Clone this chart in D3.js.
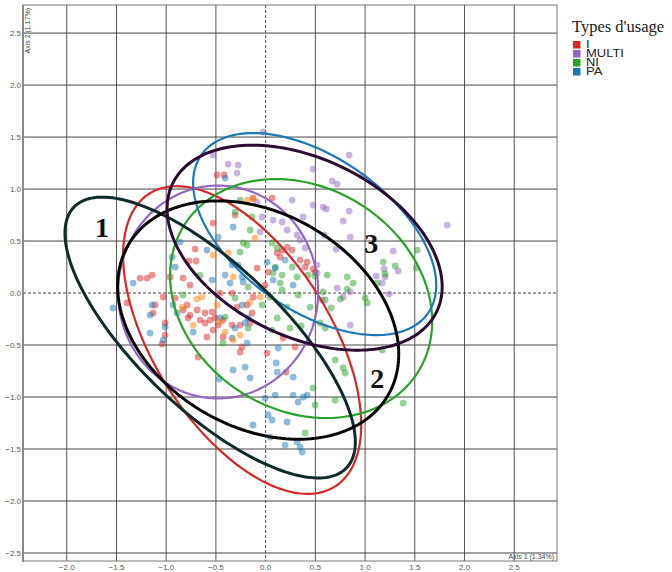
<!DOCTYPE html>
<html><head><meta charset="utf-8">
<script src="https://cdn.jsdelivr.net/npm/d3@7"></script>
<style>body{margin:0;background:#fff}svg{display:block}</style>
</head><body><svg id="c" width="672" height="572"></svg>
<script>
// ---------- data ----------
const categories = ["I", "MULTI", "NI", "PA"];
const legendTitle = "Types d'usage";
const xTicks = [-2.0, -1.5, -1.0, -0.5, 0.0, 0.5, 1.0, 1.5, 2.0, 2.5];
const yTicks = [-2.5, -2.0, -1.5, -1.0, -0.5, 0.0, 0.5, 1.0, 1.5, 2.0, 2.5];
const xTitle = "Axis 1 (1.34%)";
const yTitle = "Axis 2 (1.17%)";

const pointsI = [[-0.488,1.135],[-0.418,1.135],[-0.126,0.913],[0.065,0.913],[-0.307,0.75],[-0.528,0.673],[-0.709,0.423],[-0.77,0.308],[-0.699,0.308],[-0.83,0.144],[-1.263,0.144],[-1.192,0.144],[-1.142,0.173],[-0.961,0.154],[-0.76,0.077],[-1.031,-0.038],[-1.112,-0.115],[-1.132,-0.192],[-0.91,-0.048],[-0.79,-0.115],[-0.83,-0.163],[-0.76,-0.212],[-0.689,-0.163],[-0.659,-0.26],[-0.609,-0.192],[-0.538,-0.183],[-0.558,-0.26],[-0.609,-0.288],[-0.508,-0.24],[-0.478,-0.308],[-0.528,-0.356],[-0.428,-0.26],[-0.458,0.0],[-0.337,0.0],[-0.287,-0.135],[-0.186,-0.115],[-0.126,-0.038],[-0.337,-0.308],[-0.257,-0.308],[-0.156,-0.288],[-0.136,-0.192],[-0.086,0.24],[0.116,0.385],[0.216,0.442],[0.267,0.413],[0.166,0.413],[0.146,0.346],[0.347,0.317],[0.397,0.25],[0.498,0.202],[0.025,0.202],[-0.005,0.077],[-1.011,-0.288],[-1.011,-0.404],[-1.393,-0.096],[-1.041,-0.49],[-0.679,-0.615],[-0.589,-0.423],[-0.428,-0.423],[-0.236,-0.519],[-0.257,-0.567],[0.015,-0.577],[0.206,-0.76],[0.297,-0.519],[0.176,-0.433],[0.418,0.298],[0.478,0.231],[-0.78,-0.24]];
const pointsMULTI = [[-0.025,1.548],[0.84,1.327],[-0.528,1.327],[-0.377,1.24],[-0.277,1.231],[-0.287,1.154],[0.478,1.192],[0.669,1.077],[0.719,1.048],[0.971,1.125],[0.267,0.894],[0.478,0.846],[0.578,0.827],[0.609,0.808],[0.84,0.788],[0.78,0.692],[0.377,0.731],[0.075,0.702],[0.166,0.683],[-0.035,0.731],[-0.086,0.875],[-0.055,0.587],[0.216,0.606],[0.317,0.558],[0.347,0.51],[0.589,0.558],[0.85,0.538],[0.709,0.423],[0.397,0.433],[0.518,0.269],[0.518,0.192],[0.719,0.048],[0.78,-0.038],[0.85,0.01],[1.826,0.654],[1.283,0.404],[1.333,0.212],[1.112,0.163],[1.202,0.154],[1.172,0.096],[1.242,-0.01],[1.192,0.231],[0.85,-0.308],[0.568,-0.067]];
const pointsNI = [[-0.257,0.894],[-0.307,0.779],[-0.136,0.731],[-0.156,0.606],[-0.226,0.481],[-0.257,0.394],[-0.186,0.462],[0.096,0.25],[0.267,0.25],[0.317,0.154],[0.075,0.192],[0.146,0.096],[0.045,-0.038],[0.166,0.029],[0.327,-0.019],[0.428,0.173],[0.619,0.173],[-0.035,-0.115],[-0.83,-0.019],[-0.659,0.173],[-0.307,-0.048],[-0.176,0.058],[0.216,-0.135],[0.357,-0.317],[1.524,0.413],[1.182,0.298],[1.303,0.26],[1.202,0.183],[1.122,0.096],[0.82,0.154],[0.88,0.096],[0.82,0.038],[0.75,-0.058],[0.578,0.01],[0.599,-0.067],[0.498,0.163],[1.021,-0.096],[1.001,-0.048],[1.514,0.24],[0.659,-0.144],[0.065,0.481],[0.116,0.433],[0.166,0.173],[0.448,-0.135],[-0.407,-0.231],[-0.428,-0.481],[-0.176,-0.337],[0.116,-0.24],[0.599,-0.337],[0.699,-0.644],[0.78,-0.721],[0.8,-0.769],[0.478,-0.913],[0.498,-1.077],[0.699,-1.029],[0.397,-1.346],[1.383,-1.058],[1.172,-0.548],[0.548,-0.288],[0.065,-0.356],[0.246,-0.337]];
const pointsPA = [[-0.407,1.106],[-0.327,0.635],[-0.478,0.538],[-0.589,0.413],[-0.86,0.49],[-0.941,0.346],[-0.91,0.25],[-1.333,0.096],[-1.534,-0.144],[-1.142,-0.115],[-0.931,-0.115],[-0.89,-0.192],[0.015,0.298],[0.196,0.317],[0.075,0.125],[0.277,0.077],[-0.236,-0.115],[-0.206,-0.288],[-1.162,-0.385],[-1.031,-0.452],[-0.407,0.173],[-0.277,0.269],[-0.226,0.106],[-0.357,0.096],[-0.538,0.125],[-0.236,0.154],[-0.337,0.269],[0.096,0.24],[-1.162,-0.212],[-1.011,-0.327],[-0.729,-0.375],[-0.307,-0.337],[-0.337,-0.433],[-0.458,-0.24],[-0.176,-0.24],[-0.186,-0.481],[-0.327,-0.74],[-0.206,-0.712],[-0.156,-0.817],[-0.468,-0.827],[-0.126,-1.269],[0.126,-0.529],[0.106,-0.673],[0.116,-0.76],[0.277,-0.808],[-0.005,-1.01],[0.025,-1.173],[0.065,-1.221],[0.216,-1.24],[0.096,-0.981],[0.277,-0.981],[0.327,-1.048],[0.377,-1.0],[0.418,-0.981],[0.196,-1.462],[0.317,-1.433],[0.347,-1.481],[0.367,-1.529],[0.045,-1.385]];
const pointsOther = [[-0.186,0.894],[-0.126,0.904],[-0.106,0.529],[-0.377,0.385],[-0.327,0.154],[-0.639,-0.038],[-0.689,-0.058],[-0.84,-0.135],[-0.729,-0.308],[-0.488,-0.115],[-0.407,-0.375],[-0.327,-0.452],[-0.055,-0.038],[-0.257,-0.404],[-0.156,-0.087],[-0.458,-0.279],[-0.528,0.365]];

// confidence ellipses (data units): centre, semi-axes, rotation (deg)
const ellipseNames = ["I", "MULTI", "NI", "PA", "1", "2", "3"];
const ellipseCx    = [-0.236, -0.478, 0.357, 0.493, -0.558, -0.075, 0.392];
const ellipseCy    = [-0.452, 0.010, -0.053, 0.567, -0.428, -0.260, 0.436];
const ellipseA     = [1.69, 1.024, 1.373, 1.371, 1.858, 1.494, 1.464];
const ellipseB     = [0.875, 1.006, 1.082, 0.747, 0.709, 1.039, 0.861];
const ellipseAngle = [-55.6, 90, -27.2, -32.7, -42.0, -26.8, -23.9];

const clusterLabels = ["1", "2", "3"];
const clusterLabelX = [-1.645, 1.122, 1.061];
const clusterLabelY = [0.538, -0.913, 0.385];

// ---------- styles ----------
const colors = {I: "#d62728", MULTI: "#9467bd", NI: "#2ca02c", PA: "#1f77b4", other: "#ff7f0e",
                "1": "#0e2a2a", "2": "#050505", "3": "#2b0b32"};

// ---------- chart ----------
const svg = d3.select("#c");
const L = 23, R = 557, T = 5, B = 561;
const x = d3.scaleLinear().domain([-2.44, 2.93]).range([L, R]);
const y = d3.scaleLinear().domain([-2.577, 2.77]).range([B, T]);

const grid = svg.append("g");
grid.selectAll(".vg").data(xTicks).join("line")
  .attr("x1", d => x(d)).attr("x2", d => x(d)).attr("y1", T).attr("y2", B)
  .attr("stroke", "#555").attr("stroke-width", 1)
  .attr("stroke-dasharray", d => d === 0 ? "3,2" : null);
grid.selectAll(".hg").data(yTicks).join("line")
  .attr("y1", d => y(d)).attr("y2", d => y(d)).attr("x1", L).attr("x2", R)
  .attr("stroke", "#444").attr("stroke-width", 1)
  .attr("stroke-dasharray", d => d === 0 ? "3,2" : null);

// frame
svg.append("rect").attr("x", L).attr("y", T).attr("width", R - L).attr("height", B - T)
  .attr("fill", "none").attr("stroke", "#777").attr("stroke-width", 1);
svg.append("line").attr("x1", L).attr("x2", L).attr("y1", T).attr("y2", B + 1)
  .attr("stroke", "#888").attr("stroke-width", 2);

// tick labels
const fmt = d3.format(".1f");
svg.append("g").selectAll("text").data(xTicks).join("text")
  .attr("x", d => x(d)).attr("y", 570).attr("text-anchor", "middle")
  .attr("font-family", "Liberation Sans, Arial, sans-serif").attr("font-size", 8)
  .attr("fill", "#555").text(d => fmt(d));
svg.append("g").selectAll("text").data(yTicks).join("text")
  .attr("x", 21).attr("y", d => y(d)).attr("dy", "0.35em").attr("text-anchor", "end")
  .attr("font-family", "Liberation Sans, Arial, sans-serif").attr("font-size", 8)
  .attr("fill", "#555").text(d => fmt(d));

// axis titles
svg.append("text").attr("x", R - 3).attr("y", B - 2).attr("text-anchor", "end")
  .attr("font-family", "Liberation Sans, Arial, sans-serif").attr("font-size", 7)
  .attr("fill", "#444").text(xTitle);
svg.append("text").attr("transform", `translate(${L + 7},${T + 3}) rotate(-90)`)
  .attr("text-anchor", "end").attr("font-family", "Liberation Sans, Arial, sans-serif")
  .attr("font-size", 7).attr("fill", "#444").text(yTitle);

// points
const series = [
  {key: "I", pts: pointsI}, {key: "MULTI", pts: pointsMULTI},
  {key: "NI", pts: pointsNI}, {key: "PA", pts: pointsPA}, {key: "other", pts: pointsOther}
];
const pg = svg.append("g");
series.forEach(s => {
  pg.append("g").selectAll("circle").data(s.pts).join("circle")
    .attr("cx", d => x(d[0])).attr("cy", d => y(d[1])).attr("r", 3.4)
    .attr("fill", colors[s.key]).attr("fill-opacity", 0.5);
});

// ellipses
function ellipsePoints(i) {
  const phi = ellipseAngle[i] * Math.PI / 180, pts = [];
  for (let k = 0; k < 200; k++) {
    const t = k / 200 * 2 * Math.PI;
    const ex = ellipseA[i] * Math.cos(t), ey = ellipseB[i] * Math.sin(t);
    pts.push([ellipseCx[i] + ex * Math.cos(phi) - ey * Math.sin(phi),
              ellipseCy[i] + ex * Math.sin(phi) + ey * Math.cos(phi)]);
  }
  return pts;
}
const line = d3.line().x(d => x(d[0])).y(d => y(d[1])).curve(d3.curveLinearClosed);
const eg = svg.append("g");
ellipseNames.forEach((n, i) => {
  const cluster = clusterLabels.includes(n);
  eg.append("path").attr("d", line(ellipsePoints(i)))
    .attr("fill", "none").attr("stroke", colors[n])
    .attr("stroke-width", cluster ? 3 : 2.2);
});

// cluster labels
svg.append("g").selectAll("text").data(clusterLabels).join("text")
  .attr("x", (d, i) => x(clusterLabelX[i])).attr("y", (d, i) => y(clusterLabelY[i]))
  .attr("text-anchor", "middle").attr("font-family", "Liberation Serif, Times New Roman, serif")
  .attr("font-weight", "bold").attr("font-size", 28).attr("fill", "#111").text(d => d);

// legend
const lg = svg.append("g");
lg.append("text").attr("x", 572).attr("y", 32)
  .attr("font-family", "Liberation Serif, Times New Roman, serif").attr("font-size", 16.5)
  .attr("fill", "#222").text(legendTitle);
categories.forEach((c, i) => {
  lg.append("rect").attr("x", 573).attr("y", 41 + i * 9).attr("width", 7.5).attr("height", 7.5)
    .attr("fill", colors[c]);
  lg.append("text").attr("transform", `translate(586,${48 + i * 9}) scale(1.3,1)`)
    .attr("font-family", "Liberation Sans, Arial, sans-serif").attr("font-size", 10)
    .attr("fill", "#222").text(c);
});
</script></body></html>
